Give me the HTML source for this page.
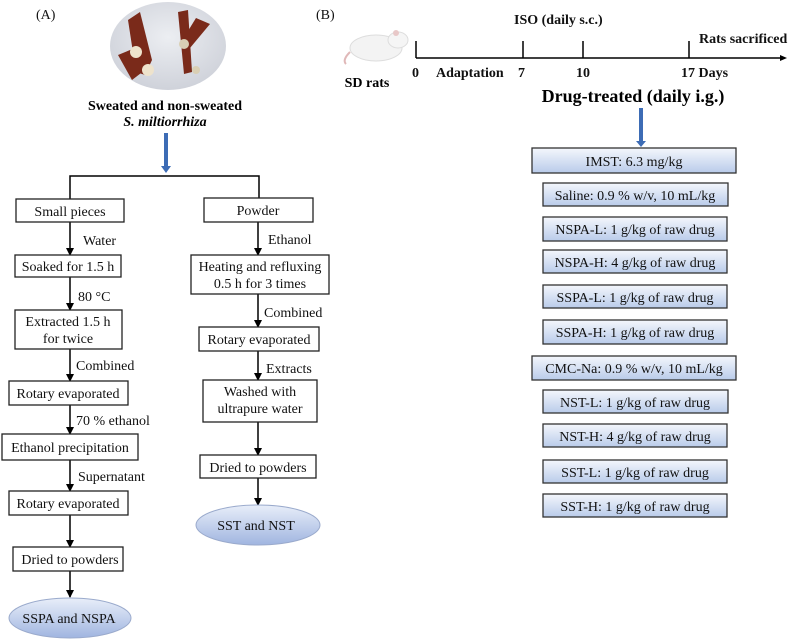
<!DOCTYPE html>
<html><head><meta charset="utf-8"><style>
body{margin:0;background:#fff;}
svg{display:block;font-family:"Liberation Serif",serif;}
</style></head><body>
<svg width="790" height="641" viewBox="0 0 790 641" xmlns="http://www.w3.org/2000/svg">
<defs>
<linearGradient id="g" x1="0" y1="0" x2="0" y2="1"><stop offset="0" stop-color="#f4f7fc"/><stop offset="1" stop-color="#b9cbea"/></linearGradient>
<linearGradient id="e" x1="0" y1="0" x2="0" y2="1"><stop offset="0" stop-color="#e8eef9"/><stop offset="1" stop-color="#a0b5e0"/></linearGradient>
<radialGradient id="p" cx="0.5" cy="0.4" r="0.6"><stop offset="0" stop-color="#eceef2"/><stop offset="1" stop-color="#cfd2da"/></radialGradient>
<marker id="a" markerWidth="8" markerHeight="8" refX="7" refY="4" orient="auto" markerUnits="userSpaceOnUse"><path d="M0,0 L8,4 L0,8 z" fill="#000"/></marker>
</defs>
<g font-size="14" fill="#111">
<text x="36" y="19">(A)</text>
<text x="316" y="19">(B)</text>
</g>
<!-- photo -->
<ellipse cx="168" cy="46" rx="58" ry="44" fill="url(#p)"/>
<g fill="#7a2a1a">
<polygon points="128,20 140,12 152,60 145,75 136,72"/>
<polygon points="118,55 135,48 145,70 132,80"/>
<polygon points="178,12 188,10 192,72 184,74"/>
<polygon points="196,18 210,24 190,48 180,44"/>
</g>
<circle cx="136" cy="52" r="6" fill="#eee3cc"/><circle cx="148" cy="70" r="6" fill="#eee3cc"/><circle cx="184" cy="44" r="5" fill="#d9cfb4"/><circle cx="196" cy="70" r="4" fill="#d9cfb4"/>
<text x="165" y="110" text-anchor="middle" font-size="14" font-weight="bold">Sweated and non-sweated</text>
<text x="165" y="126" text-anchor="middle" font-size="14" font-weight="bold" font-style="italic">S. miltiorrhiza</text>
<!-- blue arrow A -->
<rect x="164" y="133" width="4" height="34" fill="#3d6cb5"/><path d="M161,166 L171,166 L166,173 z" fill="#3d6cb5"/>
<g stroke="#000" stroke-width="1.5" fill="none">
<path d="M70,200 V176 H259 V198"/>
</g>
<g stroke="#000" stroke-width="1.5" marker-end="url(#a)">
<line x1="70" y1="222" x2="70" y2="255"/>
<line x1="70" y1="277" x2="70" y2="310"/>
<line x1="70" y1="349" x2="70" y2="381"/>
<line x1="70" y1="405" x2="70" y2="434"/>
<line x1="70" y1="460" x2="70" y2="491"/>
<line x1="70" y1="515" x2="70" y2="547"/>
<line x1="70" y1="571" x2="70" y2="597"/>
<line x1="258" y1="222" x2="258" y2="255"/>
<line x1="258" y1="294" x2="258" y2="327"/>
<line x1="258" y1="351" x2="258" y2="380"/>
<line x1="258" y1="422" x2="258" y2="455"/>
<line x1="258" y1="478" x2="258" y2="505"/>
</g>
<g fill="#fff" stroke="#222" stroke-width="1.3">
<rect x="16" y="199" width="108" height="23"/>
<rect x="15" y="255" width="106" height="22"/>
<rect x="15" y="310" width="107" height="39"/>
<rect x="9" y="381" width="119" height="24"/>
<rect x="2" y="434" width="136" height="26"/>
<rect x="9" y="491" width="119" height="24"/>
<rect x="13" y="547" width="110" height="24"/>
<rect x="204" y="198" width="109" height="24"/>
<rect x="191" y="255" width="138" height="39"/>
<rect x="199" y="327" width="120" height="24"/>
<rect x="203" y="380" width="114" height="42"/>
<rect x="200" y="455" width="116" height="23"/>
</g>
<ellipse cx="70" cy="618" rx="61" ry="20" fill="url(#e)" stroke="#9aaacc"/>
<ellipse cx="258" cy="525" rx="62" ry="20" fill="url(#e)" stroke="#9aaacc"/>
<g font-size="14" fill="#111" text-anchor="middle">
<text x="70" y="216">Small pieces</text>
<text x="68" y="271">Soaked for 1.5 h</text>
<text x="68" y="326">Extracted 1.5 h</text>
<text x="68" y="343">for twice</text>
<text x="68" y="398">Rotary evaporated</text>
<text x="70" y="452">Ethanol precipitation</text>
<text x="68" y="508">Rotary evaporated</text>
<text x="70" y="564">Dried to powders</text>
<text x="69" y="623">SSPA and NSPA</text>
<text x="258" y="215">Powder</text>
<text x="260" y="271">Heating and refluxing</text>
<text x="260" y="288">0.5 h for 3 times</text>
<text x="259" y="344">Rotary evaporated</text>
<text x="260" y="396">Washed with</text>
<text x="260" y="413">ultrapure water</text>
<text x="258" y="472">Dried to powders</text>
<text x="256" y="530">SST and NST</text>
</g>
<g font-size="14" fill="#111">
<text x="83" y="245">Water</text>
<text x="78" y="301">80 °C</text>
<text x="76" y="370">Combined</text>
<text x="76" y="425">70 % ethanol</text>
<text x="78" y="481">Supernatant</text>
<text x="268" y="244">Ethanol</text>
<text x="264" y="317">Combined</text>
<text x="266" y="373">Extracts</text>
</g>
<!-- Panel B -->
<g>
<ellipse cx="376" cy="48" rx="26" ry="13" fill="#f3f3f3" stroke="#ddd"/>
<ellipse cx="398" cy="40" rx="10" ry="8" fill="#f5f5f5" stroke="#ddd"/>
<circle cx="396" cy="33" r="3" fill="#e8c8c8"/>
<path d="M350,52 q-8,8 -4,12" stroke="#e0b8b8" fill="none" stroke-width="2"/>
</g>
<text x="367" y="87" text-anchor="middle" font-size="14" font-weight="bold">SD rats</text>
<g stroke="#000" stroke-width="1.5">
<line x1="416" y1="58" x2="780" y2="58"/>
<line x1="416" y1="41" x2="416" y2="58"/>
<line x1="523" y1="41" x2="523" y2="58"/>
<line x1="583" y1="41" x2="583" y2="58"/>
<line x1="689" y1="41" x2="689" y2="58"/>
</g>
<path d="M780,55 L787,58 L780,61 z" fill="#000"/>
<g font-size="14" font-weight="bold" fill="#111">
<text x="514" y="24">ISO (daily s.c.)</text>
<text x="699" y="43">Rats sacrificed</text>
<text x="412" y="77">0</text>
<text x="436" y="77">Adaptation</text>
<text x="518" y="77">7</text>
<text x="576" y="77">10</text>
<text x="681" y="77">17 Days</text>
</g>
<text x="633" y="102" text-anchor="middle" font-size="18" font-weight="bold">Drug-treated (daily i.g.)</text>
<rect x="639" y="108" width="4" height="34" fill="#3d6cb5"/><path d="M636,141 L646,141 L641,147 z" fill="#3d6cb5"/>
<g fill="url(#g)" stroke="#333" stroke-width="1.3">
<rect x="532" y="148" width="204" height="25"/>
<rect x="543" y="183" width="185" height="23"/>
<rect x="543" y="217" width="184" height="24"/>
<rect x="543" y="250" width="184" height="23"/>
<rect x="543" y="285" width="184" height="23"/>
<rect x="543" y="320" width="184" height="24"/>
<rect x="532" y="356" width="204" height="24"/>
<rect x="543" y="390" width="185" height="23"/>
<rect x="543" y="424" width="184" height="23"/>
<rect x="543" y="460" width="184" height="23"/>
<rect x="543" y="494" width="184" height="23"/>
</g>
<g font-size="14" fill="#111" text-anchor="middle">
<text x="634" y="166">IMST: 6.3 mg/kg</text>
<text x="635" y="200">Saline: 0.9 % w/v, 10 mL/kg</text>
<text x="635" y="234">NSPA-L: 1 g/kg of raw drug</text>
<text x="635" y="267">NSPA-H: 4 g/kg of raw drug</text>
<text x="635" y="302">SSPA-L: 1 g/kg of raw drug</text>
<text x="635" y="337">SSPA-H: 1 g/kg of raw drug</text>
<text x="634" y="373">CMC-Na: 0.9 % w/v, 10 mL/kg</text>
<text x="635" y="407">NST-L: 1 g/kg of raw drug</text>
<text x="635" y="441">NST-H: 4 g/kg of raw drug</text>
<text x="635" y="477">SST-L: 1 g/kg of raw drug</text>
<text x="635" y="511">SST-H: 1 g/kg of raw drug</text>
</g>
</svg>
</body></html>
